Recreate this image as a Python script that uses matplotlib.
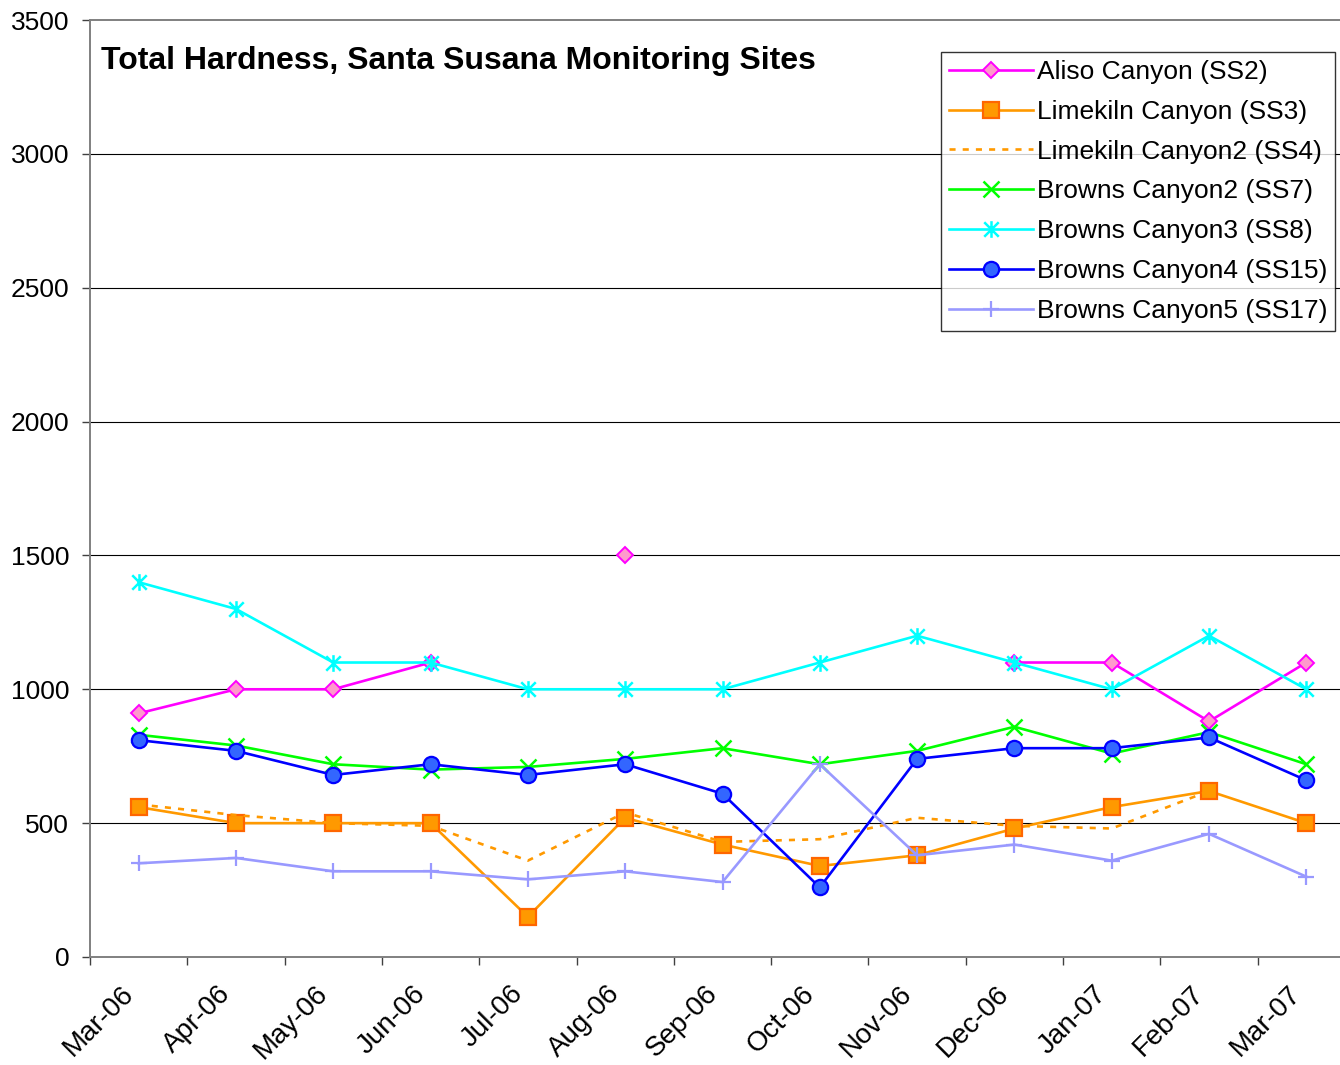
import numpy as np
import matplotlib
matplotlib.use("Agg")
import matplotlib.pyplot as plt
import matplotlib.transforms as mtransforms
from matplotlib.path import Path
from matplotlib.ticker import FixedLocator

plt.rcParams['font.family'] = ['Liberation Sans', 'DejaVu Sans']

months = ["Mar-06", "Apr-06", "May-06", "Jun-06", "Jul-06", "Aug-06", "Sep-06",
          "Oct-06", "Nov-06", "Dec-06", "Jan-07", "Feb-07", "Mar-07"]
nan = np.nan
ss2 = [910, 1000, 1000, 1100, nan, 1500, nan, nan, nan, 1100, 1100, 880, 1100]
ss3 = [560, 500, 500, 500, 150, 520, 420, 340, 380, 480, 560, 620, 500]
ss4 = [570, 530, 500, 490, 360, 540, 430, 440, 520, 490, 480, 620, nan]
ss7 = [830, 790, 720, 700, 710, 740, 780, 720, 770, 860, 760, 840, 720]
ss8 = [1400, 1300, 1100, 1100, 1000, 1000, 1000, 1100, 1200, 1100, 1000, 1200, 1000]
ss15 = [810, 770, 680, 720, 680, 720, 610, 260, 740, 780, 780, 820, 660]
ss17 = [350, 370, 320, 320, 290, 320, 280, 720, 380, 420, 360, 460, 300]
yticks = [0, 500, 1000, 1500, 2000, 2500, 3000, 3500]

star = Path([(-1, -1), (1, 1), (-1, 1), (1, -1), (0, -1.15), (0, 1.15)],
            [Path.MOVETO, Path.LINETO, Path.MOVETO, Path.LINETO, Path.MOVETO, Path.LINETO])

W, H = 1340, 1065
fig = plt.figure(figsize=(W / 100, H / 100), dpi=100)
ax = fig.add_axes([90 / W, 108 / H, 1265 / W, 937 / H])

x = np.arange(len(months))
lw = 1.9
ax.plot(x, ss2, color='#FF00FF', lw=lw, marker='D', ms=8.3, mfc='#FF99CC', mec='#FF00FF',
        mew=1.4, label='Aliso Canyon (SS2)')
ax.plot(x, ss3, color='#FF9900', lw=lw, marker='s', ms=11, mfc='#FF9900', mec='#FF6600',
        mew=1.6, label='Limekiln Canyon (SS3)')
ax.plot(x, ss4, color='#FF9900', lw=lw, ls=(0, (2.3, 2.7)), label='Limekiln Canyon2 (SS4)')
ax.plot(x, ss7, color='#00FF00', lw=lw, marker='x', ms=11, mec='#00FF00', mew=1.8,
        label='Browns Canyon2 (SS7)')
ax.plot(x, ss8, color='#00FFFF', lw=lw, marker=star, ms=12, mec='#00FFFF', mew=1.8,
        label='Browns Canyon3 (SS8)')
ax.plot(x, ss15, color='#0000FF', lw=lw, marker='o', ms=11, mfc='#3366FF', mec='#0000FF',
        mew=1.6, label='Browns Canyon4 (SS15)')
ax.plot(x, ss17, color='#9999FF', lw=lw, marker='+', ms=12, mec='#9999FF', mew=1.6,
        label='Browns Canyon5 (SS17)')

ax.set_xlim(-0.5, len(months) - 0.5)
ax.set_ylim(0, 3500)
ax.set_yticks(yticks)
ax.set_yticklabels([str(v) for v in yticks], fontsize=19)
ax.set_xticks(x)
ax.set_xticklabels(months, fontsize=20, rotation=45, ha='right')
shift = mtransforms.ScaledTranslation(-5 / 100, 0, fig.dpi_scale_trans)
for lab in ax.get_xticklabels():
    lab.set_transform(lab.get_transform() + shift)
ax.xaxis.set_minor_locator(FixedLocator(np.arange(-0.5, len(months), 1.0)))
ax.tick_params(axis='x', which='major', length=0, pad=17)
ax.tick_params(axis='x', which='minor', length=6, width=1.0, color='#404040')
ax.tick_params(axis='y', which='major', length=6, width=1.0, color='#404040', pad=9)

for v in yticks[1:-1]:
    ax.axhline(v, color='black', lw=0.8, zorder=0.5)

for s in ['left', 'bottom', 'top']:
    ax.spines[s].set_color('#808080')
    ax.spines[s].set_linewidth(1.4)
ax.spines['right'].set_visible(False)

fig.text(101 / W, 1 - 69 / H, 'Total Hardness, Santa Susana Monitoring Sites',
         fontsize=23, fontweight='bold', va='baseline', ha='left')

leg = fig.legend(loc='upper left', bbox_to_anchor=(941 / W, 1 - 52 / H), borderaxespad=0,
                 fontsize=19, frameon=True, fancybox=False, handlelength=3.2,
                 handletextpad=0.12, labelspacing=0.6, borderpad=0.3)
leg.get_frame().set_edgecolor('black')
leg.get_frame().set_linewidth(1.0)

fig.savefig('out.png', dpi=100)
